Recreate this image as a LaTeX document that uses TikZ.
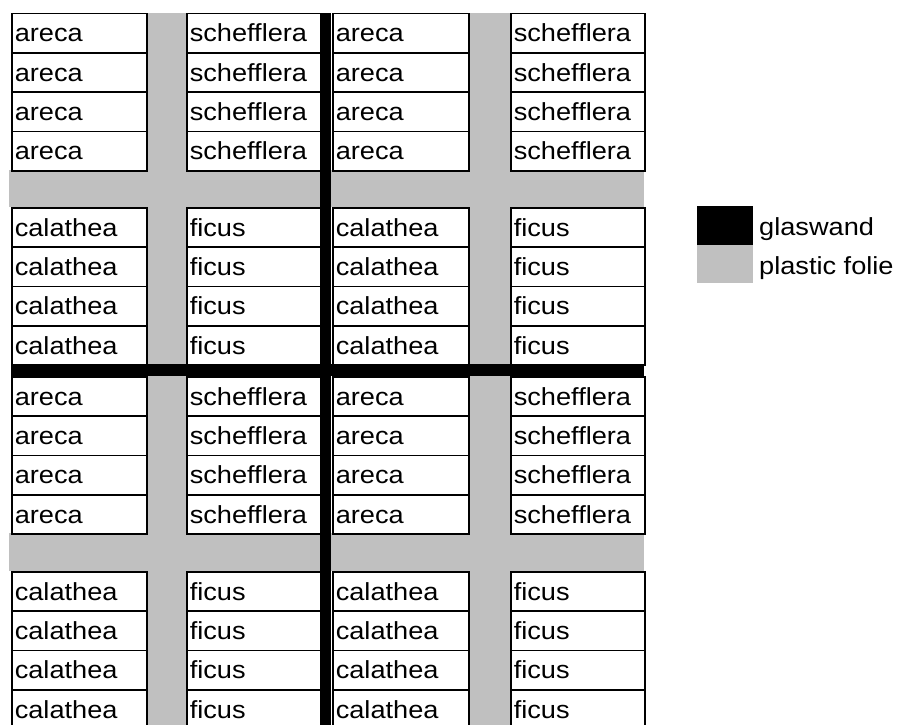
\documentclass[tikz,border=0pt]{standalone}
\usepackage{fontspec}
\setmainfont{Liberation Sans}[FakeStretch=1.1]
\definecolor{folie}{HTML}{C0C0C0}
\begin{document}
\begin{tikzpicture}[x=1pt,y=-1pt,
  cell/.style={draw, line width=1.6pt, anchor=north west, inner xsep=3pt, inner ysep=0pt,
    text width=#1, minimum height=39.3pt, align=left, text height=21.6pt, text depth=4pt,
    font=\fontsize{24.7}{28}\selectfont},
  legendbox/.style={anchor=north west, minimum width=56pt, inner sep=0pt},
  legendtext/.style={anchor=base west, inner sep=0pt, font=\fontsize{24.7}{28}\selectfont}]
\path[use as bounding box] (0,0) rectangle (898,724);
\begin{scope}
\clip (0,0) rectangle (898,724);
% plastic foil strips
\fill[folie] (146,12.7) rectangle (186,730);
\fill[folie] (468,12.7) rectangle (510,730);
\fill[folie] (9,170) rectangle (644,207);
\fill[folie] (9,533) rectangle (644,571);
% glass walls
\fill[black] (320,12.7) rectangle (331,730);
\fill[black] (11,364) rectangle (644,376);
% cells
\foreach \b/\by/\la/\lb in {1/12.7/areca/schefflera, 2/207/calathea/ficus, 3/376/areca/schefflera, 4/571/calathea/ficus}
  \foreach \r in {0,...,3}
    \foreach \c/\cx/\cw/\od in {1/11/135/1, 2/186/134/0, 3/332/136/1, 4/510/134/0} {
      \pgfmathsetmacro\tw{\cw-6}
      \node[cell=\tw pt] (c-\b-\r-\c) at (\cx,{\by+\r*39.3}) {\ifnum\od=1 \la\else\lb\fi};
    }
\end{scope}
% legend
\node[legendbox, fill=black, minimum height=39pt] (lg1) at (697,206) {};
\node[legendbox, fill=folie, minimum height=38pt] (lg2) at (697,245) {};
\node[legendtext] (lt1) at (759,235) {glaswand};
\node[legendtext] (lt2) at (759,274) {plastic folie};
\end{tikzpicture}
\end{document}
